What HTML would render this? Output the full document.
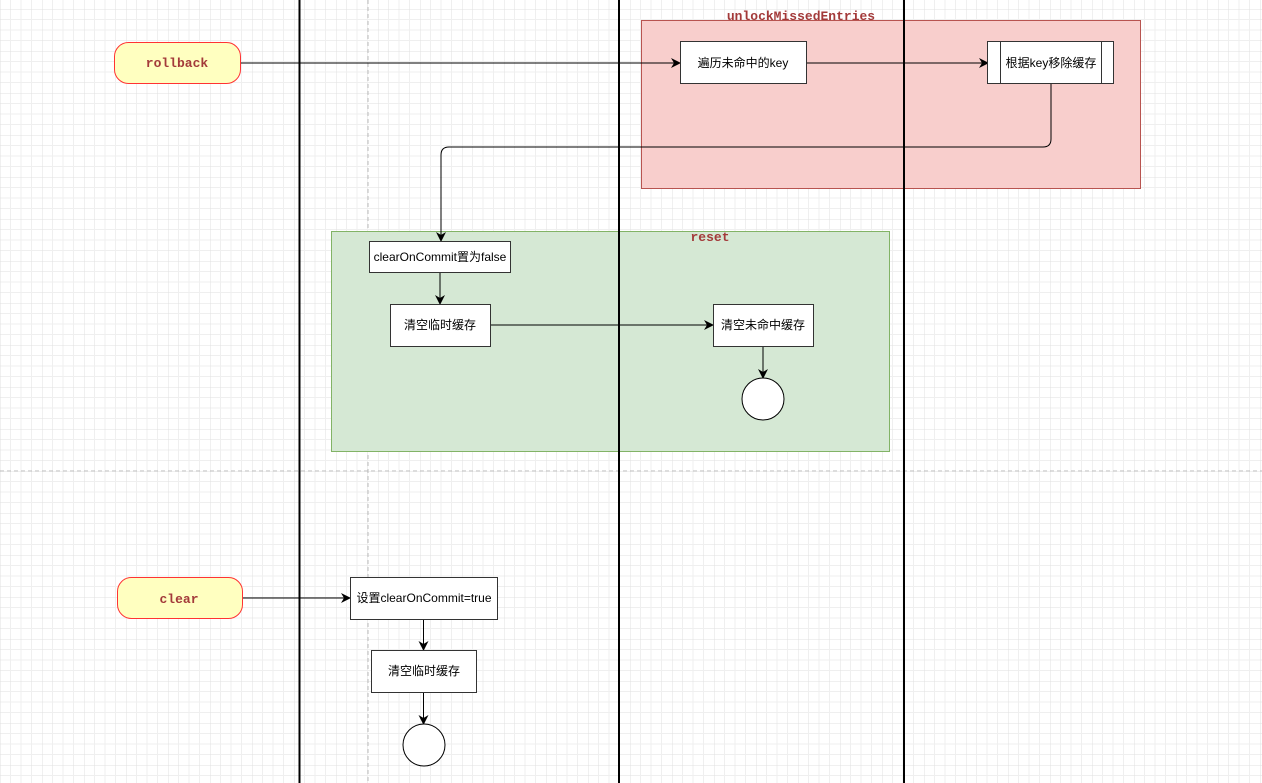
<!DOCTYPE html>
<html><head><meta charset="utf-8"><style>
html,body{margin:0;padding:0;background:#fff;}
svg{display:block;}
text{font-family:"Liberation Sans","Noto Sans CJK SC",sans-serif;font-size:12px;fill:#000;}
.m{font-family:"Liberation Mono","DejaVu Sans Mono",monospace;font-weight:bold;font-size:13px;fill:#a33a3a;}
</style></head><body>
<svg width="1262" height="783" viewBox="0 0 1262 783" xmlns="http://www.w3.org/2000/svg">
<defs>
<pattern id="g" width="42" height="42" patternUnits="userSpaceOnUse" x="0" y="9">
<path d="M10.5 0V42M21 0V42M31.5 0V42M0 10.5H42M0 21H42M0 31.5H42" stroke="#efefef" stroke-width="1" fill="none"/>
<path d="M0 0V42M0 0H42" stroke="#e0e0e0" stroke-width="1" fill="none"/>
</pattern>
<marker id="a" markerWidth="10" markerHeight="10" refX="9" refY="5" orient="auto" markerUnits="userSpaceOnUse">
<path d="M0,0 L10,5 L0,10 L3,5 Z" fill="#000"/>
</marker>
</defs>
<rect width="1262" height="783" fill="#fff"/>
<rect width="1262" height="783" fill="url(#g)"/>
<line x1="368" y1="0" x2="368" y2="783" stroke="#bbb" stroke-dasharray="4 3"/>
<line x1="0" y1="471" x2="1262" y2="471" stroke="#bbb" stroke-dasharray="4 3"/>

<rect x="641.5" y="20.5" width="499" height="168" fill="#f8cecc" stroke="#b85450"/>
<text class="m" x="801" y="20" text-anchor="middle">unlockMissedEntries</text>
<rect x="331.5" y="231.5" width="558" height="220" fill="#d5e8d4" stroke="#82b366"/>
<text class="m" x="710" y="241" text-anchor="middle">reset</text>

<line x1="299.5" y1="0" x2="299.5" y2="783" stroke="#000" stroke-width="2"/>
<line x1="619" y1="0" x2="619" y2="783" stroke="#000" stroke-width="2"/>
<line x1="904" y1="0" x2="904" y2="783" stroke="#000" stroke-width="2"/>

<g stroke="#000" stroke-width="1" fill="none">
<line x1="240" y1="63" x2="680" y2="63" marker-end="url(#a)"/>
<line x1="807" y1="63" x2="988" y2="63" marker-end="url(#a)"/>
<path d="M1051 84 V139 Q1051 147 1043 147 H449 Q441 147 441 155 V241" marker-end="url(#a)"/>
<line x1="440" y1="272" x2="440" y2="304" marker-end="url(#a)"/>
<line x1="490" y1="325" x2="713" y2="325" marker-end="url(#a)"/>
<line x1="763" y1="346" x2="763" y2="378" marker-end="url(#a)"/>
<line x1="242" y1="598" x2="350" y2="598" marker-end="url(#a)"/>
<line x1="423.5" y1="619" x2="423.5" y2="650" marker-end="url(#a)"/>
<line x1="423.5" y1="692" x2="423.5" y2="724" marker-end="url(#a)"/>
</g>

<rect x="114.5" y="42.5" width="126" height="41" rx="14" fill="#ffffc0" stroke="#ff3333"/>
<text class="m" x="177" y="67" text-anchor="middle">rollback</text>
<rect x="117.5" y="577.5" width="125" height="41" rx="14" fill="#ffffc0" stroke="#ff3333"/>
<text class="m" x="179" y="603" text-anchor="middle">clear</text>

<g fill="#fff" stroke="#333">
<rect x="680.5" y="41.5" width="126" height="42"/>
<rect x="987.5" y="41.5" width="126" height="42"/>
<line x1="1000.5" y1="41.5" x2="1000.5" y2="83.5"/>
<line x1="1101.5" y1="41.5" x2="1101.5" y2="83.5"/>
<rect x="369.5" y="241.5" width="141" height="31"/>
<rect x="390.5" y="304.5" width="100" height="42"/>
<rect x="713.5" y="304.5" width="100" height="42"/>
<circle cx="763" cy="399" r="21" stroke="#000"/>
<rect x="350.5" y="577.5" width="147" height="42"/>
<rect x="371.5" y="650.5" width="105" height="42"/>
<circle cx="424" cy="745" r="21" stroke="#000"/>
</g>

<text x="743" y="67" text-anchor="middle">遍历未命中的key</text>
<text x="1051" y="67" text-anchor="middle">根据key移除缓存</text>
<text x="440" y="261" text-anchor="middle">clearOnCommit置为false</text>
<text x="440" y="329" text-anchor="middle">清空临时缓存</text>
<text x="763" y="329" text-anchor="middle">清空未命中缓存</text>
<text x="424" y="602" text-anchor="middle">设置clearOnCommit=true</text>
<text x="424" y="675" text-anchor="middle">清空临时缓存</text>
</svg>
</body></html>
